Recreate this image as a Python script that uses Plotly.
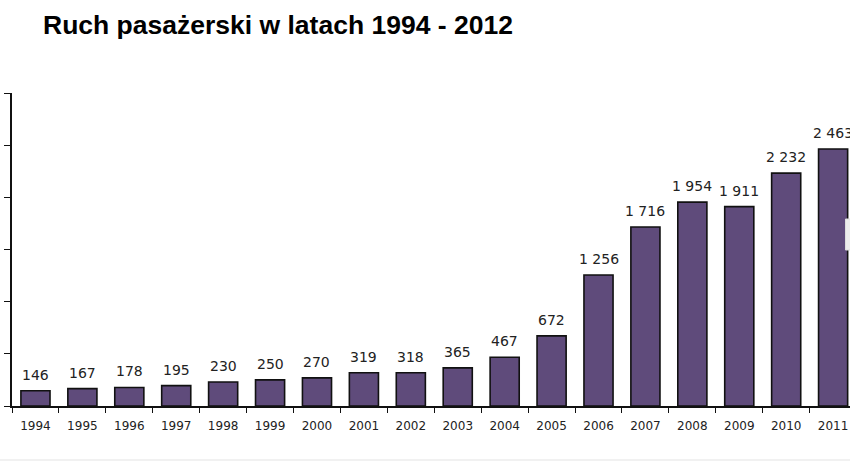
import plotly.graph_objects as go

years = ["1994", "1995", "1996", "1997", "1998", "1999", "2000", "2001", "2002",
         "2003", "2004", "2005", "2006", "2007", "2008", "2009", "2010", "2011"]
passengers = [146, 167, 178, 195, 230, 250, 270, 319, 318,
              365, 467, 672, 1256, 1716, 1954, 1911, 2232, 2463]
y_ticks = [0, 500, 1000, 1500, 2000, 2500, 3000]
title_text = "Ruch pasażerski w latach 1994 - 2012"

W, H = 850, 471
ML, MR, MT, MB = 12, 0, 93, 65
plot_w = W - ML - MR
plot_h = H - MT - MB


def fmt(v):
    return f"{v:,}".replace(",", " ")


fig = go.Figure()
fig.add_trace(go.Bar(
    x=years, y=passengers,
    marker=dict(color="#5f4b7b", line=dict(color="#111111", width=1.6)),
    hoverinfo="x+y",
))

# value labels: category index used as x (numeric-looking strings would be read as indices)
for i, v in enumerate(passengers):
    fig.add_annotation(x=i, y=v, xref="x", yref="y", text=fmt(v), showarrow=False,
                       yanchor="middle", yshift=16,
                       font=dict(family="DejaVu Sans", size=14, color="#222222"))

# thin grey separator line near bottom and small grey tab at right edge
fig.add_shape(type="line", xref="paper", yref="paper",
              x0=-ML / plot_w, x1=1.0, y0=-(460 - (H - MB)) / plot_h, y1=-(460 - (H - MB)) / plot_h,
              line=dict(color="#e3e3e3", width=1.2))
fig.add_shape(type="rect", xref="paper", yref="paper",
              x0=(845.5 - ML) / plot_w, x1=(852 - ML) / plot_w,
              y0=((H - MB) - 250) / plot_h, y1=((H - MB) - 219) / plot_h,
              fillcolor="#ececec", line=dict(color="#dcdcdc", width=1))

fig.update_layout(
    width=W, height=H,
    margin=dict(l=ML, r=MR, t=MT, b=MB, pad=0),
    paper_bgcolor="white", plot_bgcolor="white",
    bargap=0.38,
    showlegend=False,
    title=dict(text=title_text, xref="container", yref="container",
               x=43 / W, xanchor="left", y=1 - 25 / H, yanchor="middle",
               font=dict(family="Liberation Sans", size=26.5, color="#000000", weight="bold")),
    xaxis=dict(
        type="category", range=[-0.5, 17.36],
        showline=True, linecolor="#111111", linewidth=1.6,
        ticks="outside", tickson="boundaries", ticklen=5, tickcolor="#111111", tickwidth=1.4,
        ticklabelstandoff=8,
        tickfont=dict(family="DejaVu Sans", size=12, color="#222222"),
        showgrid=False, zeroline=False, fixedrange=True,
    ),
    yaxis=dict(
        range=[0, 3000], tickvals=y_ticks, showticklabels=False,
        showline=True, linecolor="#111111", linewidth=1.6,
        ticks="outside", ticklen=6, tickcolor="#111111", tickwidth=1.4,
        showgrid=False, zeroline=False, fixedrange=True,
    ),
)

fig.write_html("out.html", config={"displayModeBar": False})
